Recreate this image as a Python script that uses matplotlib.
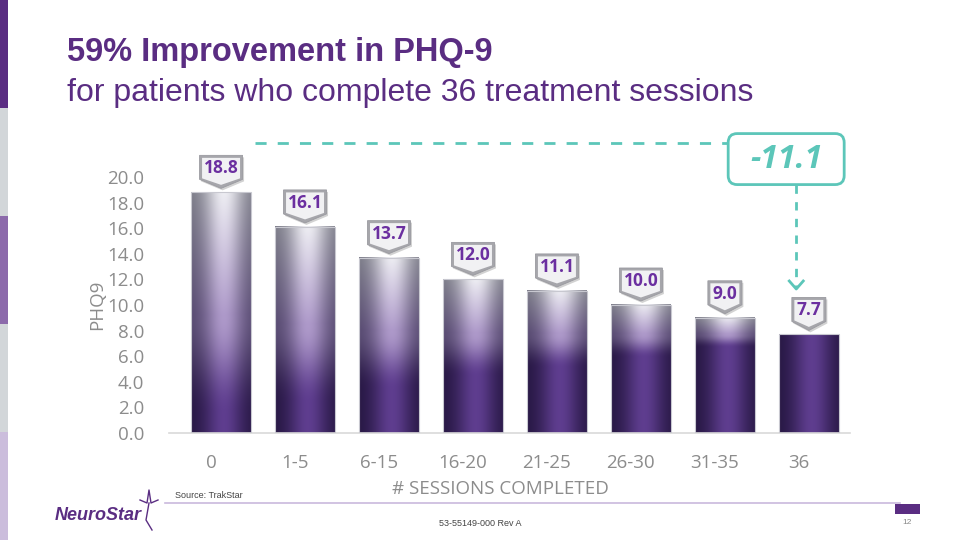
import numpy as np
import matplotlib
matplotlib.use("Agg")
import matplotlib.pyplot as plt
from matplotlib.patches import Polygon, FancyBboxPatch, Rectangle
from matplotlib.transforms import Affine2D, ScaledTranslation

# data
sessions = ["0", "1-5", "6-15", "16-20", "21-25", "26-30", "31-35", "36"]
phq9 = [18.8, 16.1, 13.7, 12.0, 11.1, 10.0, 9.0, 7.7]
y_ticks = [0, 2, 4, 6, 8, 10, 12, 14, 16, 18, 20]
change = round(phq9[-1] - phq9[0], 1)

PURPLE = "#5a2d82"
LABEL_PURPLE = "#6b2fa0"
TEAL = "#5cc6b9"
GRAY = "#8c8c8c"

fig = plt.figure(figsize=(9.6, 5.4), dpi=100)
W, H = 960, 540
ax = fig.add_axes([169 / W, 1 - 433 / H, (850 - 169) / W, 256 / H])

x = np.arange(len(sessions))
bar_w = 0.71
vmin = min(phq9)


def bar_image(v, nx=60, ny=240):
    # cylinder-like shading: dark purple bottom fading to pale gray top
    h = np.linspace(0, 1, nx)
    prof = np.exp(-((h - 0.55) / 0.33) ** 2)
    dark_c, dark_e = np.array([0.37, 0.24, 0.56]), np.array([0.15, 0.09, 0.26])
    mid_c, mid_e = np.array([0.68, 0.60, 0.79]), np.array([0.33, 0.28, 0.43])
    lite_c, lite_e = np.array([0.93, 0.93, 0.95]), np.array([0.47, 0.47, 0.52])
    dark = dark_e + (dark_c - dark_e) * prof[:, None]
    mid = mid_e + (mid_c - mid_e) * prof[:, None]
    lite = lite_e + (lite_c - lite_e) * prof[:, None]
    y = np.linspace(0, v, ny)
    ds = v * np.exp(-(v - vmin) / 4.3)
    if v - ds < 0.05:
        s = np.zeros(ny)
    else:
        s = np.clip((y - ds) / (v - ds), 0, 1)
    img = np.zeros((ny, nx, 3))
    for i, t in enumerate(s):
        if t < 0.45:
            u = t / 0.45
            u = u * u * (3 - 2 * u)
            img[i] = dark * (1 - u) + mid * u
        else:
            u = (t - 0.45) / 0.55
            img[i] = mid * (1 - u) + lite * u
    return np.clip(img, 0, 1)


for xi, v in zip(x, phq9):
    ax.imshow(bar_image(v), extent=[xi - bar_w / 2, xi + bar_w / 2, 0, v],
              aspect="auto", origin="lower", interpolation="bilinear", zorder=2)
    ax.add_patch(Rectangle((xi - bar_w / 2, 0), bar_w, v, fill=False,
                           ec="#c8c8d0", lw=0.8, zorder=3))

ax.set_xlim(-0.62, 7.49)
ax.set_ylim(0, 20)


# shield-shaped value badges (pixel geometry anchored on bar tops)
def badge_verts(w, inset=0.0):
    gap, point, rect = 4, 9, 24
    hw = w / 2 - inset
    return [(0, gap + inset * 1.4), (hw, gap + point + inset * 0.4),
            (hw, gap + point + rect - inset), (-hw, gap + point + rect - inset),
            (-hw, gap + point + inset * 0.4)]


for xi, v in zip(x, phq9):
    txt = f"{v:.1f}"
    w = 9 * len(txt) + 7
    anchor = ScaledTranslation(xi, v, ax.transData)
    shadow = Affine2D().translate(1.5, -2) + anchor
    ax.add_patch(Polygon(badge_verts(w), closed=True, fc="#808080", ec="none",
                         alpha=0.35, transform=shadow, clip_on=False, zorder=4))
    ax.add_patch(Polygon(badge_verts(w), closed=True, fc="#a6a6ab", ec="#9a9aa0",
                         lw=0.6, transform=Affine2D() + anchor, clip_on=False, zorder=5))
    ax.add_patch(Polygon(badge_verts(w, 2.5), closed=True, fc="#f1f1f3", ec="none",
                         transform=Affine2D() + anchor, clip_on=False, zorder=6))
    ax.annotate(txt, (xi, v), xytext=(0, 24), textcoords="offset pixels",
                ha="center", va="center", fontsize=12.5, fontweight="bold",
                family="Open Sans", color=LABEL_PURPLE, zorder=7, annotation_clip=False)

# change call-out box
box_x, box_y = x[-1] - 0.27, 21.4
box_anchor = ScaledTranslation(box_x, box_y, ax.transData)
ax.add_patch(FancyBboxPatch((-58, -25.5), 116, 51,
                            boxstyle="round,pad=0,rounding_size=9",
                            fc="white", ec=TEAL, lw=2,
                            transform=Affine2D() + box_anchor, clip_on=False, zorder=8))
ax.text(box_x, box_y, f"{change:.1f}", ha="center", va="center", fontsize=23,
        fontweight="bold", style="italic", family="Open Sans", color=TEAL, zorder=9)

ax.plot([0.4, box_x - 58 / 84], [22.66, 22.66], color=TEAL, lw=2,
        dashes=(4, 4), clip_on=False, zorder=8)
arrow_x = x[-1] - 0.15
ax.plot([arrow_x, arrow_x], [19.4, 11.3], color=TEAL, lw=2,
        dashes=(3, 3), clip_on=False, zorder=8)
tip = ScaledTranslation(arrow_x, 11.25, ax.transData)
ax.plot([-7, 0, 7], [8, 0, 8], color=TEAL, lw=2, transform=Affine2D() + tip,
        clip_on=False, zorder=8)

# axes styling
for side in ["left", "top", "right"]:
    ax.spines[side].set_visible(False)
ax.spines["bottom"].set_color("#d9d9d9")
ax.spines["bottom"].set_linewidth(1.2)
ax.set_yticks(y_ticks)
ax.set_yticklabels([f"{t:.1f}" for t in y_ticks])
ax.set_xticks(x)
ax.set_xticklabels(sessions)
ax.tick_params(axis="both", length=0, labelsize=13.5, labelcolor=GRAY)
ax.tick_params(axis="y", pad=18)
ax.tick_params(axis="x", pad=15)
for lbl in ax.get_xticklabels() + ax.get_yticklabels():
    lbl.set_fontfamily("Open Sans")
for lbl in ax.get_xticklabels():
    lbl.set_transform(lbl.get_transform() + ScaledTranslation(-0.1, 0, fig.dpi_scale_trans))
ax.set_ylabel("PHQ9", fontsize=13.5, color=GRAY, family="Open Sans")
ax.yaxis.set_label_coords(-0.093, 0.5)
ax.set_xlabel("# SESSIONS COMPLETED", fontsize=13.5, color=GRAY, family="Open Sans")
ax.xaxis.set_label_coords(0.486, -0.183)

# slide frame
strip = [PURPLE, "#d2d6d9", "#8c6aab", "#d2d6d9", "#cbbddc"]
for i, c in enumerate(strip):
    fig.patches.append(Rectangle((0, 1 - (i + 1) * 0.2), 8 / W, 0.2, fc=c, ec="none",
                                 transform=fig.transFigure, figure=fig))

fig.text(67 / W, 1 - 53 / H, "59% Improvement in PHQ-9", fontsize=23.5,
         fontweight="bold", family="Liberation Sans", color=PURPLE, va="center")
fig.text(67 / W, 1 - 93 / H, "for patients who complete 36 treatment sessions",
         fontsize=23, family="Liberation Sans", color=PURPLE, va="center")

fig.add_artist(plt.Line2D([165 / W, 900 / W], [1 - 503 / H, 1 - 503 / H],
                          color="#c9b9dd", lw=1.2, transform=fig.transFigure))
fig.patches.append(Rectangle((895 / W, 1 - 514 / H), 25 / W, 10 / H, fc=PURPLE,
                             ec="none", transform=fig.transFigure, figure=fig))
fig.text(175 / W, 1 - 495 / H, "Source: TrakStar", fontsize=6.5,
         family="Liberation Sans", color="#444444", va="center")
fig.text(480 / W, 1 - 524 / H, "53-55149-000 Rev A", fontsize=6.5,
         family="Liberation Sans", color="#444444", ha="center", va="center")
fig.text(907 / W, 1 - 522 / H, "12", fontsize=6, family="Liberation Sans",
         color="#888888", ha="center", va="center")
fig.text(55 / W, 1 - 516 / H, "NeuroStar", fontsize=13, fontweight="bold",
         style="italic", family="Liberation Sans", color=PURPLE, va="center")
# little star figure of the logo
sx = np.array([140, 147, 149, 151, 158]) / W
sy = 1 - np.array([500, 503, 490, 503, 500]) / H
fig.add_artist(plt.Line2D(sx, sy, color=PURPLE, lw=1, transform=fig.transFigure))
fig.add_artist(plt.Line2D([149 / W, 146 / W, 152 / W], [1 - 503 / H, 1 - 520 / H, 1 - 530 / H],
                          color=PURPLE, lw=1, transform=fig.transFigure))

fig.savefig("out.png", dpi=100)
